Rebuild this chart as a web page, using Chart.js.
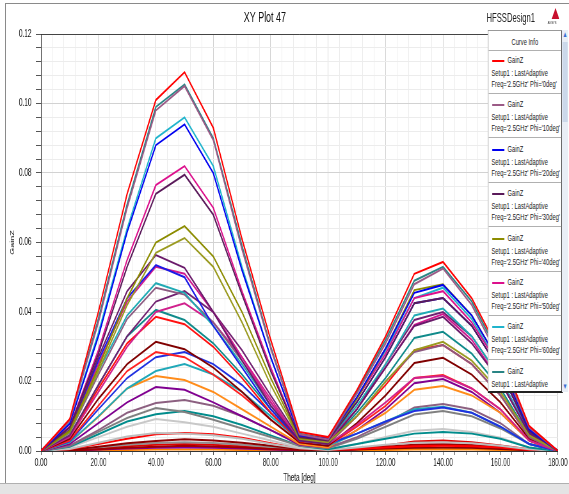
<!DOCTYPE html>
<html>
<head>
<meta charset="utf-8">
<script src="https://cdn.jsdelivr.net/npm/chart.js@4/dist/chart.umd.min.js"></script>
<style>
  body { margin: 0; background: #fff; width: 569px; height: 494px; overflow: hidden; position: relative; font-family: "Liberation Sans", Arial, sans-serif; }
  #frameTop { position: absolute; left: 5px; top: 3px; width: 564px; height: 1px; background: #8a8a8a; }
  #frameLeft { position: absolute; left: 5px; top: 3px; width: 1px; height: 480px; background: #8a8a8a; }
  #frameBottom { position: absolute; left: 0; top: 483px; width: 569px; height: 11px; background: #e4e4e4; border-top: 1px solid #b0b0b0; }
  #wrap { position: absolute; left: 0; top: 0; width: 889px; height: 494px; transform: scaleX(0.64); transform-origin: 0 0; }
  #title { position: absolute; left: 314px; width: 200px; top: 9px; text-align: center; font-size: 14px; color: #111; }
  #design { position: absolute; left: 760px; top: 11px; font-size: 12px; color: #222; }
  #logo { position: absolute; left: 862px; top: 8px; width: 0; height: 0; border-left: 6px solid transparent; border-right: 6px solid transparent; border-bottom: 11px solid #c8102e; }
  #logoTxt { position: absolute; left: 856px; top: 20px; font-size: 4px; color: #333; }
  #legend { position: absolute; left: 762px; top: 30px; width: 114px; height: 360px; background: #fff; border: 1px solid #999; border-right: 2px solid #222; border-bottom: 2px solid #222; overflow: hidden; font-size: 9px; color: #222; }
  #legend .head { position: absolute; left: 0; width: 114px; top: 6px; text-align: center; }
  #legend .sep { position: absolute; left: 0; width: 114px; height: 1px; background: #b0b0b0; }
  #legend .swatch { position: absolute; left: 6px; width: 19px; height: 2px; }
  #legend .txt { position: absolute; left: 5px; white-space: nowrap; }
  #scroll { position: absolute; left: 878px; top: 30px; width: 10px; height: 362px; background: #e9eef6; }
  #thumb { position: absolute; left: 1px; top: 12px; width: 8px; height: 80px; background: #cbd8ea; }
  #up, #down { position: absolute; left: 1px; width: 8px; height: 10px; font-size: 8px; color: #3a6fd0; text-align: center; line-height: 10px; }
  #up { top: 0; }
  #down { bottom: 0; }
</style>
</head>
<body>
<div id="frameTop"></div>
<div id="frameLeft"></div>
<div id="frameBottom"></div>
<div id="wrap">
  <canvas id="myChartgain" width="889" height="494"></canvas>
  <div id="title">XY Plot 47</div>
  <div id="design">HFSSDesign1</div>
  <div id="logo"></div>
  <div id="logoTxt">ANSYS</div>
  <div id="legend"><div class="head">Curve Info</div><div class="sep" style="top:19px"></div></div>
  <div id="scroll"><div id="thumb"></div><div id="up">&#9650;</div><div id="down">&#9660;</div></div>
</div>
<script>
const theta = [0, 10, 20, 30, 40, 50, 60, 70, 80, 90, 100, 110, 120, 130, 140, 150, 160, 170, 180];
const xTicks = [0, 20, 40, 60, 80, 100, 120, 140, 160, 180];
const yTicks = [0, 0.02, 0.04, 0.06, 0.08, 0.10, 0.12];

const phi0   = [0, 0.0092, 0.040, 0.074, 0.101, 0.109, 0.093, 0.061, 0.032, 0.0055, 0.004, 0.0175, 0.033, 0.051, 0.0544, 0.044, 0.028, 0.0072, 0];
const phi10  = [0, 0.0087, 0.037, 0.070, 0.098, 0.105, 0.0895, 0.058, 0.0295, 0.0048, 0.0033, 0.0165, 0.031, 0.048, 0.0525, 0.042, 0.026, 0.0068, 0];
const phi20  = [0, 0.0078, 0.033, 0.063, 0.088, 0.094, 0.080, 0.052, 0.027, 0.0045, 0.0035, 0.0155, 0.0295, 0.0455, 0.0478, 0.039, 0.025, 0.0062, 0];
const phi30  = [0, 0.0068, 0.028, 0.053, 0.074, 0.0795, 0.068, 0.045, 0.023, 0.004, 0.003, 0.014, 0.027, 0.0425, 0.044, 0.036, 0.023, 0.0058, 0];
const phi40  = [0, 0.0058, 0.024, 0.044, 0.060, 0.0647, 0.056, 0.040, 0.021, 0.0038, 0.003, 0.015, 0.0295, 0.0463, 0.048, 0.039, 0.025, 0.006, 0];
const phi50  = [0, 0.007, 0.029, 0.055, 0.0765, 0.082, 0.070, 0.046, 0.024, 0.004, 0.003, 0.015, 0.028, 0.044, 0.046, 0.037, 0.024, 0.006, 0];
const phi60  = [0, 0.008, 0.034, 0.064, 0.090, 0.096, 0.082, 0.053, 0.027, 0.0045, 0.003, 0.015, 0.029, 0.044, 0.047, 0.038, 0.024, 0.006, 0];
const phi70  = [0, 0.0088, 0.038, 0.071, 0.099, 0.1055, 0.090, 0.059, 0.030, 0.005, 0.0035, 0.017, 0.032, 0.049, 0.053, 0.043, 0.027, 0.007, 0];
const phi80  = [0, 0.0055, 0.023, 0.042, 0.057, 0.0613, 0.053, 0.037, 0.019, 0.0035, 0.0025, 0.010, 0.020, 0.029, 0.0314, 0.026, 0.017, 0.0045, 0];
const phi90  = [0, 0.006, 0.027, 0.046, 0.0564, 0.0527, 0.040, 0.026, 0.013, 0.003, 0.002, 0.012, 0.024, 0.036, 0.0386, 0.031, 0.020, 0.005, 0];
const phi100 = [0, 0.006, 0.026, 0.044, 0.0535, 0.050, 0.036, 0.024, 0.012, 0.003, 0.004, 0.014, 0.027, 0.0425, 0.044, 0.036, 0.023, 0.0055, 0];
const phi110 = [0, 0.0058, 0.025, 0.043, 0.053, 0.051, 0.040, 0.027, 0.014, 0.003, 0.0025, 0.012, 0.024, 0.0363, 0.0394, 0.032, 0.020, 0.005, 0];
const phi120 = [0, 0.0055, 0.023, 0.039, 0.0483, 0.0455, 0.036, 0.025, 0.013, 0.003, 0.003, 0.013, 0.025, 0.039, 0.041, 0.033, 0.021, 0.005, 0];
const phi130 = [0, 0.0052, 0.022, 0.038, 0.047, 0.045, 0.037, 0.026, 0.014, 0.003, 0.002, 0.010, 0.020, 0.0285, 0.0305, 0.025, 0.016, 0.004, 0];
const phi140 = [0, 0.0045, 0.019, 0.033, 0.043, 0.046, 0.040, 0.029, 0.016, 0.0035, 0.003, 0.012, 0.025, 0.0377, 0.040, 0.033, 0.021, 0.005, 0];
const phi150 = [0, 0.004, 0.017, 0.030, 0.040, 0.0425, 0.037, 0.027, 0.015, 0.003, 0.002, 0.0075, 0.014, 0.021, 0.0216, 0.018, 0.012, 0.003, 0];
const phi160 = [0, 0.0045, 0.019, 0.033, 0.0406, 0.0377, 0.031, 0.022, 0.012, 0.003, 0.002, 0.011, 0.021, 0.0325, 0.0343, 0.028, 0.018, 0.0045, 0];
const phi170 = [0, 0.0042, 0.018, 0.031, 0.0386, 0.0365, 0.030, 0.021, 0.011, 0.0028, 0.002, 0.010, 0.019, 0.029, 0.0305, 0.025, 0.016, 0.004, 0];
const phi180 = [0, 0.0035, 0.015, 0.025, 0.0314, 0.0293, 0.024, 0.017, 0.009, 0.0025, 0.0015, 0.008, 0.016, 0.0253, 0.0268, 0.022, 0.014, 0.0035, 0];
const phi190 = [0, 0.003, 0.013, 0.023, 0.0285, 0.027, 0.022, 0.016, 0.009, 0.0025, 0.0015, 0.007, 0.013, 0.021, 0.0219, 0.018, 0.012, 0.003, 0];
const phi200 = [0, 0.0028, 0.012, 0.021, 0.027, 0.0285, 0.025, 0.019, 0.011, 0.003, 0.002, 0.005, 0.0085, 0.0115, 0.0125, 0.011, 0.007, 0.002, 0];
const phi210 = [0, 0.0025, 0.010, 0.018, 0.023, 0.025, 0.022, 0.017, 0.010, 0.003, 0.0015, 0.005, 0.0085, 0.012, 0.0127, 0.011, 0.007, 0.002, 0];
const phi220 = [0, 0.0025, 0.0098, 0.018, 0.0216, 0.0204, 0.017, 0.012, 0.007, 0.002, 0.001, 0.006, 0.011, 0.0176, 0.0187, 0.016, 0.011, 0.003, 0];
const phi230 = [0, 0.002, 0.008, 0.014, 0.0184, 0.0176, 0.014, 0.010, 0.006, 0.0018, 0.001, 0.006, 0.012, 0.0195, 0.0207, 0.017, 0.011, 0.003, 0];
const phi240 = [0, 0.0015, 0.006, 0.011, 0.0138, 0.0147, 0.013, 0.010, 0.006, 0.002, 0.001, 0.004, 0.008, 0.0125, 0.0135, 0.012, 0.008, 0.002, 0];
const phi250 = [0, 0.0014, 0.0055, 0.0095, 0.0124, 0.0112, 0.009, 0.0065, 0.004, 0.0015, 0.0008, 0.0035, 0.007, 0.0105, 0.0115, 0.010, 0.0065, 0.002, 0];
const phi260 = [0, 0.0012, 0.0048, 0.0085, 0.0106, 0.0115, 0.010, 0.0075, 0.0045, 0.0015, 0.0005, 0.002, 0.0035, 0.005, 0.0055, 0.005, 0.0035, 0.001, 0];
const phi270 = [0, 0.001, 0.004, 0.007, 0.0092, 0.0083, 0.007, 0.005, 0.003, 0.001, 0.0005, 0.002, 0.004, 0.0058, 0.0063, 0.0055, 0.0038, 0.001, 0];
const phi280 = [0, 0.0006, 0.0024, 0.0042, 0.0052, 0.005, 0.0045, 0.0035, 0.002, 0.0008, 0.0003, 0.001, 0.0018, 0.0024, 0.0025, 0.0022, 0.0015, 0.0005, 0];
const phi290 = [0, 0.0005, 0.002, 0.0035, 0.0048, 0.0052, 0.0048, 0.0038, 0.0022, 0.0008, 0.0003, 0.0006, 0.001, 0.0014, 0.0015, 0.0014, 0.001, 0.0003, 0];
const phi300 = [0, 0.0003, 0.0012, 0.0022, 0.0029, 0.0034, 0.003, 0.0024, 0.0015, 0.0006, 0.0002, 0.0004, 0.0007, 0.0009, 0.001, 0.0009, 0.0006, 0.0002, 0];
const phi310 = [0, 0.0001, 0.0005, 0.0009, 0.0012, 0.0015, 0.0013, 0.001, 0.0006, 0.0003, 0.0002, 0.0006, 0.0012, 0.0018, 0.002, 0.0017, 0.0011, 0.0003, 0];
const phi320 = [0, 0.0001, 0.0004, 0.0007, 0.0009, 0.001, 0.0009, 0.0007, 0.0004, 0.0002, 0.0001, 0.0005, 0.001, 0.0017, 0.0019, 0.0016, 0.001, 0.0003, 0];
const phi330 = [0, 0.0001, 0.0002, 0.0003, 0.0004, 0.0004, 0.0004, 0.0003, 0.0002, 0.0001, 0.0001, 0.0002, 0.0003, 0.0004, 0.0004, 0.0004, 0.0003, 0.0001, 0];
const phi340 = [0, 0.0003, 0.001, 0.0018, 0.0023, 0.0025, 0.0023, 0.0018, 0.0011, 0.0004, 0.0002, 0.0003, 0.0005, 0.0007, 0.0008, 0.0007, 0.0005, 0.0002, 0];
const phi350 = [0, 0.0002, 0.0008, 0.0014, 0.0018, 0.002, 0.0018, 0.0014, 0.0009, 0.0003, 0.0002, 0.0008, 0.0016, 0.0027, 0.003, 0.0025, 0.0016, 0.0005, 0];

const phiLabels = [0, 10, 20, 30, 40, 50, 60, 70, 80, 90, 100, 110, 120, 130, 140, 150, 160, 170,
                   180, 190, 200, 210, 220, 230, 240, 250, 260, 270, 280, 290, 300, 310, 320, 330, 340, 350];
const gainSeries = [phi0, phi10, phi20, phi30, phi40, phi50, phi60, phi70, phi80, phi90, phi100, phi110,
                    phi120, phi130, phi140, phi150, phi160, phi170, phi180, phi190, phi200, phi210, phi220, phi230,
                    phi240, phi250, phi260, phi270, phi280, phi290, phi300, phi310, phi320, phi330, phi340, phi350];
const phiColors = ['#ff0000', '#9b5a86', '#0000f0', '#5a1a5a', '#8c8c00', '#dc108c', '#20b4cc', '#2a8585',
                   '#9a9a20', '#6a1a6a', '#1a1ae6', '#d01890', '#20aab4', '#8c5a80', '#702070', '#d0208c',
                   '#108a8a', '#ff1010', '#800000', '#ff2020', '#2030e0', '#20a8b8', '#ff8c1a', '#800090',
                   '#8c6080', '#808080', '#008c8c', '#c8c8c8', '#bdbdbd', '#ff0000', '#8b0000', '#a00000',
                   '#8000a0', '#ff8000', '#909090', '#e00000'];

// legend entries (only first ones visible, rest scrolled away like in HFSS)
const legendBox = document.getElementById('legend');
phiLabels.forEach(function (phi, i) {
  const top = 20 + i * 44.4;
  if (top > 360) return;
  legendBox.insertAdjacentHTML('beforeend',
    '<div class="swatch" style="top:' + (top + 9) + 'px;background:' + phiColors[i] + '"></div>' +
    '<div class="txt" style="left:30px;top:' + (top + 4) + 'px">GainZ</div>' +
    '<div class="txt" style="top:' + (top + 17) + 'px">Setup1 : LastAdaptive</div>' +
    '<div class="txt" style="top:' + (top + 28) + 'px">Freq=\'2.5GHz\' Phi=\'' + phi + 'deg\'</div>' +
    '<div class="sep" style="top:' + (top + 42) + 'px"></div>');
});

const ctxgain = document.getElementById('myChartgain');

const myChartgain = new Chart(ctxgain, {
  type: 'line',
  data: {
    datasets: gainSeries.map(function (vals, i) {
      return {
        label: 'GainZ Phi=' + phiLabels[i] + 'deg',
        data: vals.map(function (v, j) { return { x: theta[j], y: v }; }),
        borderColor: phiColors[i],
        borderWidth: 2,
        pointRadius: 0,
        tension: 0,
        fill: false
      };
    })
  },
  options: {
    responsive: false,
    animation: false,
    devicePixelRatio: 1,
    layout: { padding: { left: 8, right: 17, top: 34, bottom: 0 } },
    plugins: { legend: { display: false }, tooltip: { enabled: false } },
    scales: {
      x: {
        type: 'linear',
        min: 0,
        max: 180,
        afterFit: function (s) { s.height = 43; },
        ticks: {
          stepSize: 4,
          autoSkip: false,
          maxRotation: 0,
          padding: 2,
          color: '#222',
          font: { family: 'Liberation Sans', size: 10 },
          callback: function (v) { return xTicks.includes(v) ? v.toFixed(2) : ''; }
        },
        grid: {
          tickLength: 4,
          tickColor: '#555',
          color: function (c) {
            if (c.tick.value === 180) return '#c0c0c0';
            return xTicks.includes(c.tick.value) ? '#d2d2d2' : '#ececec';
          }
        },
        border: { color: '#333', width: 1 },
        title: { display: true, text: 'Theta [deg]', color: '#222', font: { family: 'Liberation Sans', size: 10 }, padding: { bottom: 10 } }
      },
      y: {
        min: 0,
        max: 0.12,
        afterFit: function (s) { s.width = 56; },
        ticks: {
          stepSize: 0.004,
          autoSkip: false,
          padding: 7,
          color: '#222',
          font: { family: 'Liberation Sans', size: 10 },
          callback: function (v) {
            const t = yTicks.find(function (k) { return Math.abs(k - v) < 1e-6; });
            return t === undefined ? '' : t.toFixed(2);
          }
        },
        grid: {
          tickLength: 8,
          tickColor: '#555',
          color: function (c) {
            const v = c.tick.value;
            if (Math.abs(v - 0.12) < 1e-6) return '#444';
            return yTicks.some(function (k) { return Math.abs(k - v) < 1e-6; }) ? '#d2d2d2' : '#ececec';
          }
        },
        border: { color: '#333', width: 1 },
        title: { display: true, text: 'GainZ', color: '#222', font: { family: 'Liberation Sans', size: 9 }, padding: { top: 6 } }
      }
    }
  }
});
</script>
</body>
</html>
